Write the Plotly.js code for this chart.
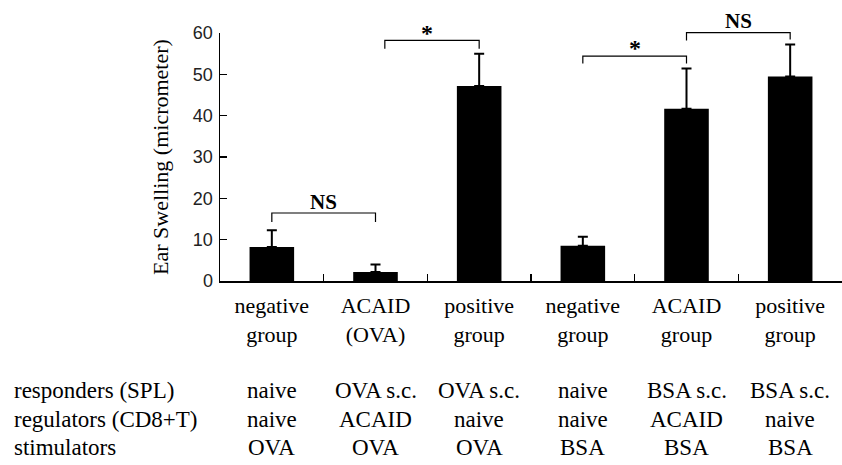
<!DOCTYPE html>
<html>
<head>
<meta charset="utf-8">
<script src="https://cdn.plot.ly/plotly-3.0.1.min.js"></script>
<style>html,body{margin:0;padding:0;background:#fff;}#chart{width:842px;height:465px;}</style>
</head>
<body>
<div id="chart"></div>
<script>
// ---- data ----
const groupIds = ['neg-OVA', 'ACAID-OVA', 'pos-OVA', 'neg-BSA', 'ACAID-BSA', 'pos-BSA'];
const groupLabels = ['negative<br>group', 'ACAID<br>(OVA)', 'positive<br>group', 'negative<br>group', 'ACAID<br>group', 'positive<br>group'];
const swelling = [8.2, 2.2, 47.2, 8.5, 41.7, 49.5];
const swellingErr = [4.1, 1.8, 7.8, 2.2, 9.7, 7.7];
const yTicks = [0, 10, 20, 30, 40, 50, 60];

const rowLabels = ['responders (SPL)', 'regulators (CD8+T)', 'stimulators'];
const responders = ['naive', 'OVA s.c.', 'OVA s.c.', 'naive', 'BSA s.c.', 'BSA s.c.'];
const regulators = ['naive', 'ACAID', 'naive', 'naive', 'ACAID', 'naive'];
const stimulators = ['OVA', 'OVA', 'OVA', 'BSA', 'BSA', 'BSA'];
const tableRows = [responders, regulators, stimulators];

// significance brackets: [from index, to index, label]
const bracketPairs = [[0, 1, 'NS'], [1.09, 2, '*'], [3, 4, '*'], [4, 5, 'NS']];
// ---- layout geometry ----
const W = 842, H = 465;
const M = {l: 220, r: 0, t: 33, b: 184};
const PW = W - M.l - M.r, PH = H - M.t - M.b;
const yMax = 60;
const py = v => v / yMax;                       // data value -> paper y
const pxY = p => (H - M.b - p) / PH;            // pixel y -> paper y
const pxX = p => (p - M.l) / PW;                // pixel x -> paper x

// bracket vertical geometry (value units): top, left leg end, right leg end, label y
const bracketGeom = [
  [16.45, 14.3, 14.3, 19.2],
  [58.2, 56.2, 56.2, 60.0],
  [54.4, 52.6, 52.6, 56.3],
  [60.1, 58.2, 58.4, 62.9]
];

const serif = 'Liberation Serif';
const sans = 'Liberation Sans';

const shapes = [];
const annotations = [];
bracketPairs.forEach((b, i) => {
  const g = bracketGeom[i];
  shapes.push({
    type: 'path', xref: 'x', yref: 'paper',
    path: `M ${b[0]},${py(g[1])} L ${b[0]},${py(g[0])} L ${b[1]},${py(g[0])} L ${b[1]},${py(g[2])}`,
    line: {color: '#000', width: 1.2}
  });
  annotations.push({
    xref: 'x', yref: 'paper', x: (b[0] + b[1]) / 2 + (i === 1 ? -0.05 : 0), y: py(g[3]),
    text: '<b>' + b[2] + '</b>', showarrow: false, xanchor: 'center', yanchor: 'middle',
    font: {family: serif, size: b[2] === '*' ? 24 : 21, color: '#000'}
  });
});

const rowPx = [390, 419, 447];
rowLabels.forEach((lab, r) => {
  annotations.push({
    xref: 'paper', yref: 'paper', x: pxX(12), y: pxY(rowPx[r]),
    text: lab, showarrow: false, xanchor: 'left', yanchor: 'middle',
    font: {family: serif, size: 23, color: '#000'}
  });
  tableRows[r].forEach((v, c) => {
    annotations.push({
      xref: 'x', yref: 'paper', x: c, y: pxY(rowPx[r]),
      text: v, showarrow: false, xanchor: 'center', yanchor: 'middle',
      font: {family: serif, size: 23, color: '#000'}
    });
  });
});

const trace = {
  type: 'bar',
  x: groupIds,
  y: swelling,
  width: 0.43,
  marker: {color: '#000', line: {width: 0}},
  error_y: {type: 'data', symmetric: false, array: swellingErr, arrayminus: swellingErr.map(() => 0),
            color: '#000', thickness: 2, width: 5},
  hoverinfo: 'none'
};

const layout = {
  width: W, height: H,
  margin: M,
  paper_bgcolor: '#fff', plot_bgcolor: '#fff',
  showlegend: false,
  font: {family: serif, color: '#000'},
  xaxis: {
    type: 'category', range: [-0.5, 5.5],
    tickmode: 'array', tickvals: groupIds, ticktext: groupLabels,
    tickson: 'boundaries', ticks: 'inside', ticklen: 7, tickwidth: 1.5, tickcolor: '#000',
    showline: true, linecolor: '#000', linewidth: 1.5,
    showgrid: false, zeroline: false,
    tickfont: {family: serif, size: 22, color: '#000'},
    ticklabelstandoff: 4,
    fixedrange: true
  },
  yaxis: {
    range: [0, yMax], tickmode: 'array', tickvals: yTicks,
    ticks: 'inside', ticklen: 7, tickwidth: 1.2, tickcolor: '#000',
    showline: true, linecolor: '#000', linewidth: 1.5,
    showgrid: false, zeroline: false,
    tickfont: {family: sans, size: 18, color: '#222'},
    ticklabelstandoff: 2,
    title: {text: 'Ear Swelling (micrometer)', font: {family: serif, size: 22, color: '#000'}, standoff: 18},
    fixedrange: true
  },
  shapes: shapes,
  annotations: annotations
};

Plotly.newPlot('chart', [trace], layout, {displayModeBar: false, staticPlot: true});
</script>
</body>
</html>
